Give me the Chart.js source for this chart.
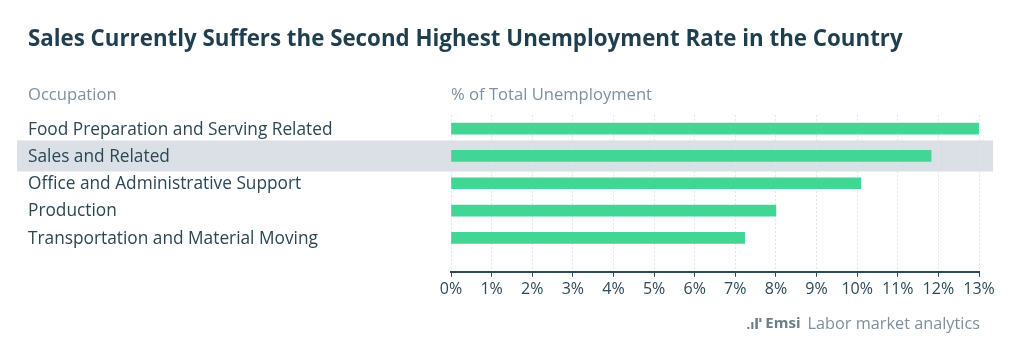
<!DOCTYPE html>
<html>
<head>
<meta charset="utf-8">
<script src="https://cdn.jsdelivr.net/npm/chart.js@4.4.0/dist/chart.umd.min.js"></script>
<style>
  html, body { margin: 0; padding: 0; background: #ffffff; }
</style>
</head>
<body>
<canvas id="myChart" width="1024" height="364"></canvas>
<script>
// Datos del gráfico
const ocupaciones = [
  'Food Preparation and Serving Related',
  'Sales and Related',
  'Office and Administrative Support',
  'Production',
  'Transportation and Material Moving'
];
const porcentajes = [12.99, 11.82, 10.09, 8.0, 7.23];
const etiquetasX = ['0%', '1%', '2%', '3%', '4%', '5%', '6%', '7%', '8%', '9%', '10%', '11%', '12%', '13%'];
const resaltado = 'Sales and Related';

const titulo = 'Sales Currently Suffers the Second Highest Unemployment Rate in the Country';
const encabezadoY = 'Occupation';
const encabezadoX = '% of Total Unemployment';

const fuente = '"Open Sans", Lato, sans-serif';
const altoFila = 27.3;

// Ajusta la altura de las filas para dejar espacio antes del eje
const ajusteFilas = {
  id: 'ajusteFilas',
  afterLayout(chart) {
    const y = chart.scales.y;
    y.bottom = y.top + ocupaciones.length * altoFila;
    y.configure();
  }
};

// Franja gris detrás de la fila resaltada
const franja = {
  id: 'franja',
  beforeDraw(chart) {
    const ctx = chart.ctx;
    const y = chart.scales.y;
    const cy = y.getPixelForValue(ocupaciones.indexOf(resaltado));
    ctx.save();
    ctx.fillStyle = '#dae0e5';
    ctx.fillRect(17, cy - 15.5, 976, 31);
    ctx.restore();
  }
};

// Textos: título, encabezados y pie
const textos = {
  id: 'textos',
  afterDraw(chart) {
    const ctx = chart.ctx;
    const area = chart.chartArea;
    ctx.save();
    ctx.textBaseline = 'middle';
    ctx.textAlign = 'left';

    ctx.fillStyle = '#1f3e4e';
    ctx.font = 'bold 22.3px ' + fuente;
    ctx.fillText(titulo, 28, 40);

    ctx.fillStyle = '#7f909b';
    ctx.font = '16.6px ' + fuente;
    ctx.fillText(encabezadoY, 28, 95);
    ctx.fillText(encabezadoX, area.left, 95);

    // pie de página
    ctx.textAlign = 'right';
    ctx.fillStyle = '#7f909b';
    ctx.font = '16.3px ' + fuente;
    const derecha = 980;
    ctx.fillText('Labor market analytics', derecha, 324);
    const w1 = ctx.measureText('Labor market analytics').width;
    ctx.fillStyle = '#6a7d89';
    ctx.font = 'bold 15px ' + fuente;
    const xEmsi = derecha - w1 - 7;
    ctx.fillText('Emsi', xEmsi, 324);
    const w2 = ctx.measureText('Emsi').width;
    const xi = xEmsi - w2 - 18;
    ctx.fillStyle = '#6a7d89';
    ctx.fillRect(xi, 327, 2, 2);
    ctx.fillRect(xi + 4, 322, 2, 7);
    ctx.fillRect(xi + 8, 318, 2.5, 11);
    ctx.fillRect(xi + 12, 318, 2, 4);
    ctx.restore();
  }
};

const ctx = document.getElementById('myChart');

new Chart(ctx, {
  type: 'bar',
  data: {
    labels: ocupaciones,
    datasets: [{
      label: encabezadoX,
      data: porcentajes,
      backgroundColor: '#42d694',
      borderWidth: 0,
      barThickness: 11
    }]
  },
  options: {
    indexAxis: 'y',
    responsive: false,
    animation: false,
    devicePixelRatio: 1,
    layout: {
      padding: { left: 28, right: 45, top: 115, bottom: 62 }
    },
    plugins: {
      legend: { display: false },
      tooltip: { enabled: false }
    },
    scales: {
      x: {
        min: 0,
        max: 13,
        ticks: {
          stepSize: 1,
          color: '#2d4a5a',
          font: { family: fuente, size: 16 },
          padding: 3,
          callback: (v) => etiquetasX[v]
        },
        grid: {
          color: '#e4e7ea',
          tickColor: '#2d4a5a',
          tickLength: 5,
          tickBorderDash: [1, 0]
        },
        border: { display: true, color: '#2d4a5a', width: 2, dash: [2, 2] }
      },
      y: {
        afterFit: (scale) => { scale.width = 423; },
        ticks: {
          crossAlign: 'far',
          color: '#2c4754',
          font: { family: fuente, size: 17.3 },
          labelOffset: 1
        },
        grid: { display: false },
        border: { display: false }
      }
    }
  },
  plugins: [ajusteFilas, franja, textos]
});
</script>
</body>
</html>
